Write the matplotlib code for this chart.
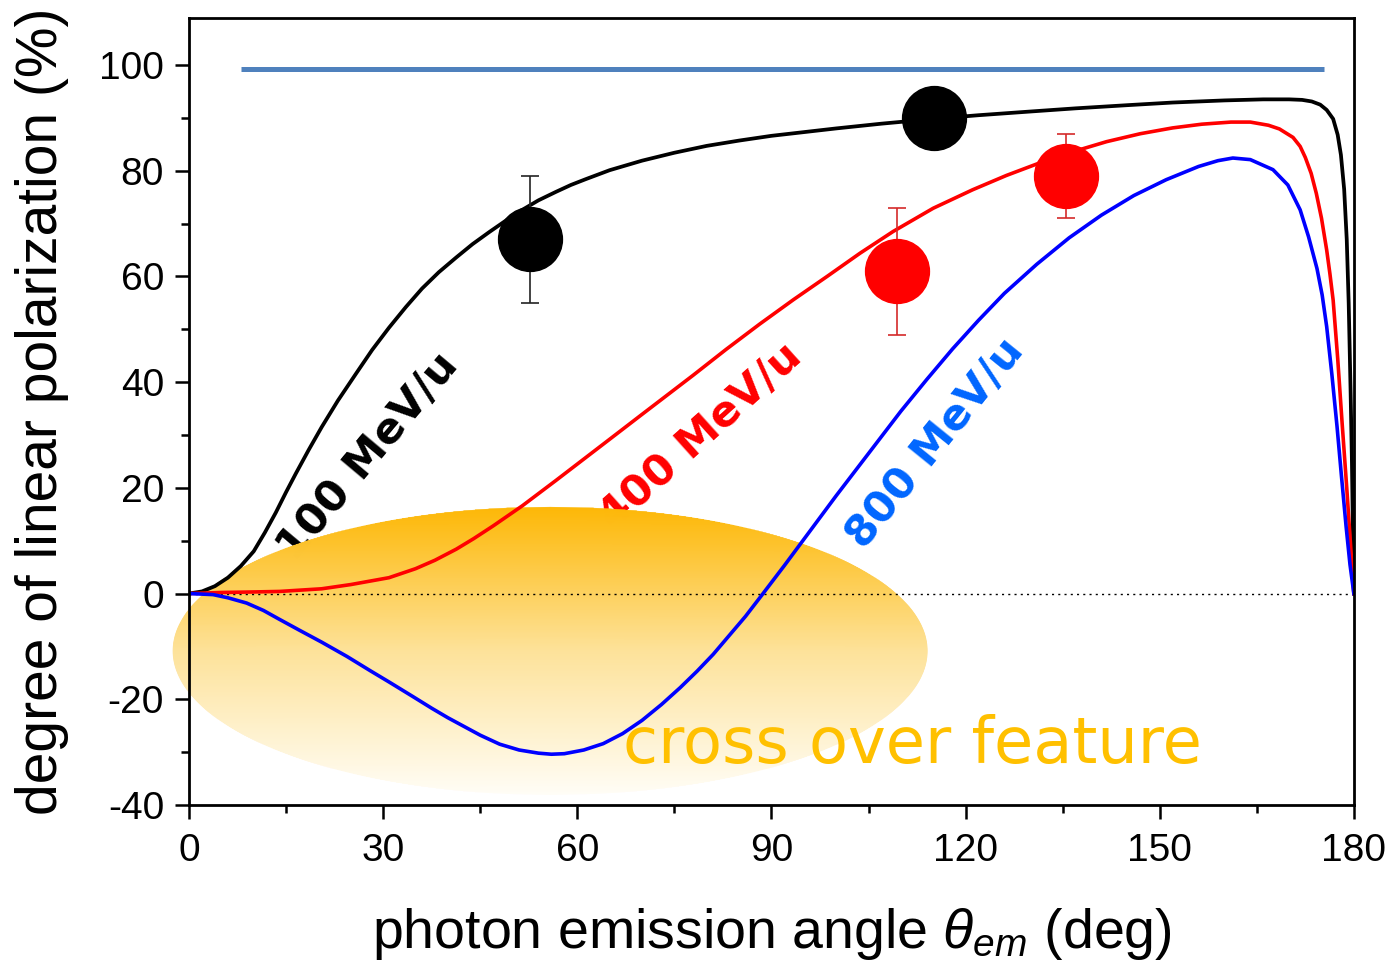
import numpy as np
import matplotlib
matplotlib.use("Agg")
import matplotlib.pyplot as plt
from matplotlib.colors import LinearSegmentedColormap
from matplotlib.ticker import MultipleLocator

# ---------------- data ----------------
x_100 = [0, 2, 4, 6, 8, 10, 11.7, 13.4, 15, 16.5, 18.5, 20.5, 23, 25.8, 28.3, 30.9,
         33.5, 36, 38.6, 41.3, 43.8, 46.4, 49, 51.5, 54, 56.7, 59, 61.3, 65, 70,
         75, 80, 85, 90, 95, 100, 107, 115, 122, 130, 137, 145, 152, 160, 166,
         170, 172, 173.5, 174.8, 175.8, 176.8, 177.5, 178, 178.5, 178.9, 179.2,
         179.5, 179.7, 179.85, 180]
y_100 = [0, 0.4, 1.4, 3.0, 5.2, 8.0, 11.5, 15.3, 19.2, 22.7, 27.2, 31.5, 36.5, 41.6,
         46.1, 50.3, 54.2, 57.7, 60.8, 63.6, 66.1, 68.4, 70.6, 72.6, 74.4, 76.0,
         77.3, 78.4, 80.1, 81.9, 83.4, 84.7, 85.7, 86.6, 87.3, 88.0, 88.9, 89.8,
         90.5, 91.2, 91.8, 92.4, 92.9, 93.3, 93.5, 93.5, 93.4, 93.1, 92.5, 91.5,
         89.8, 86.8, 83.0, 76.5, 67.0, 55.0, 38.0, 25.0, 12.0, 0]

x_400 = [0, 5, 10, 14, 20.5, 25, 30.9, 35, 38, 41.3, 44, 47, 51.5, 56.7, 60, 64.9,
         70, 77.9, 83, 88.2, 93.4, 98.6, 103.7, 108.8, 115, 121.1, 126.3, 131.5,
         136.6, 141.8, 147, 152, 156.5, 161, 164, 166.8, 168.5, 170.6, 171.7,
         172.5, 173.4, 174.2, 175, 175.8, 176.3, 176.8, 177.5, 178.2, 178.9,
         179.5, 180]
y_400 = [0, 0.2, 0.3, 0.4, 0.9, 1.7, 3.0, 4.7, 6.3, 8.4, 10.4, 12.8, 16.6, 21.4,
         24.5, 29.1, 33.9, 41.3, 46.2, 51.0, 55.6, 60.0, 64.4, 68.5, 72.9, 76.4,
         79.1, 81.5, 83.6, 85.5, 87.0, 88.1, 88.8, 89.2, 89.2, 88.6, 87.9, 86.3,
         84.6, 82.5, 79.5, 75.7, 71.0, 65.0, 60.5, 55.5, 44.5, 32.0, 20.0, 9.0, 0]

x_800 = [0, 3.7, 6, 8.9, 11.5, 14, 17, 20.5, 24.4, 28, 31, 34.6, 37.5, 40, 45, 48,
         51, 54, 56, 58, 61, 64, 67, 70, 73, 75.9, 78.5, 81, 86, 88.7, 92, 96,
         100, 105, 110, 114, 118, 122, 126, 131, 136, 141, 146, 151, 156, 159,
         161.3, 164, 167.5, 169.8, 171.7, 173, 174.3, 175.1, 175.8, 176.6, 177.4,
         178.1, 178.8, 179.4, 180]
y_800 = [0, -0.2, -0.8, -1.8, -3.2, -4.9, -6.9, -9.2, -11.9, -14.6, -16.8, -19.5,
         -21.7, -23.5, -26.8, -28.5, -29.6, -30.2, -30.4, -30.3, -29.6, -28.4,
         -26.5, -24.0, -21.0, -17.8, -14.7, -11.5, -4.3, 0.0, 5.3, 11.9, 18.5,
         26.5, 34.5, 40.5, 46.3, 51.7, 56.8, 62.3, 67.3, 71.6, 75.3, 78.3, 80.8,
         81.9, 82.4, 82.1, 80.2, 77.3, 72.6, 67.5, 61.5, 56.5, 50.5, 41.5, 31.6,
         22.0, 12.7, 5.5, 0]

# nonrelativistic limit line
x_ref = [8, 175.4]
y_ref = [99.3, 99.3]

# measured points
meas_100_x = [52.7, 115.1]
meas_100_y = [67, 90]
meas_100_err = [12, 0]
meas_400_x = [109.4, 135.5]
meas_400_y = [61, 79]
meas_400_err = [12, 8]

labels = ["100 MeV/u", "400 MeV/u", "800 MeV/u"]

# ---------------- figure ----------------
plt.rcParams['font.family'] = ['Liberation Sans', 'DejaVu Sans']
plt.rcParams['mathtext.fontset'] = 'custom'
plt.rcParams['mathtext.rm'] = 'Liberation Sans'
plt.rcParams['mathtext.it'] = 'Liberation Sans:italic'
plt.rcParams['axes.unicode_minus'] = False

fig = plt.figure(figsize=(13.9, 9.71), dpi=100)
ax = fig.add_axes([0.136, 0.171, 0.838, 0.8105])

# gradient ellipse "cross over feature"
cx, cy, ea, eb = 55.8, -10.85, 58.25, 27.15
yy = np.linspace(cy - eb, cy + eb, 300)
half = ea * np.sqrt(np.clip(1 - ((yy - cy) / eb) ** 2, 0, 1))
EX = np.column_stack([cx - half, cx + half])
EY = np.column_stack([yy, yy])
cmap = LinearSegmentedColormap.from_list("glow", ["#fffdf6", "#fde29a", "#fdb808"])
qm = ax.pcolormesh(EX, EY, EY, shading='gouraud', cmap=cmap,
                   vmin=cy - eb, vmax=cy + eb, zorder=2, alpha=0.9)
qm.set_clip_on(False)

# curves
ax.plot(x_ref, y_ref, color='#4f81bd', lw=3.6, zorder=3, solid_capstyle='butt')
ax.axhline(0, color='black', lw=1.0, ls=(0, (1.5, 3)), zorder=3)
ax.plot(x_100, y_100, color='black', lw=2.7, zorder=4)
ax.plot(x_400, y_400, color='#ff0000', lw=2.6, zorder=4)
ax.plot(x_800, y_800, color='#0000ff', lw=2.6, zorder=4)

# measured data
ax.errorbar(meas_100_x, meas_100_y, yerr=meas_100_err, fmt='o', color='black',
            ecolor='#222222', elinewidth=1.2, capsize=6.5, capthick=1.2,
            markersize=46, zorder=5)
ax.errorbar(meas_400_x, meas_400_y, yerr=meas_400_err, fmt='o', color='#ff0000',
            ecolor='#d42a2a', elinewidth=1.2, capsize=6.5, capthick=1.2,
            markersize=46, zorder=5)

# labels on curves
lab_kw = dict(fontsize=31, fontweight='bold', family='DejaVu Sans',
              ha='center', va='center', rotation_mode='anchor', zorder=1)
ax.text(27.7, 26.0, labels[0], color='black', rotation=50, **lab_kw)
ax.text(79.0, 29.7, labels[1], color='#ff0000', rotation=42, **lab_kw)
ax.text(115.3, 28.5, labels[2], color='#0066ff', rotation=51, **lab_kw)

ax.text(67.1, -32, "cross over feature", color='#ffc000', fontsize=46,
        family='DejaVu Sans', ha='left', va='baseline', zorder=6)

# axes
ax.set_xlim(0, 180)
ax.set_ylim(-40, 108.9)
ax.xaxis.set_major_locator(MultipleLocator(30))
ax.xaxis.set_minor_locator(MultipleLocator(15))
ax.set_yticks(np.arange(-40, 101, 20))
ax.set_yticks(np.arange(-30, 101, 20), minor=True)
ax.tick_params(which='both', direction='out', width=1.8, top=False, right=False,
               labelsize=28)
ax.tick_params(axis='x', pad=10)
ax.tick_params(axis='y', pad=8)
ax.tick_params(which='major', length=10)
ax.tick_params(which='minor', length=6)
for s in ax.spines.values():
    s.set_linewidth(2.0)
    s.set_zorder(10)

ax.set_xlabel(r"photon emission angle $\theta_{em}$ (deg)", fontsize=40, labelpad=27)
ax.set_ylabel("degree of linear polarization (%)", fontsize=41, labelpad=22)

fig.savefig("out.png", dpi=100)
